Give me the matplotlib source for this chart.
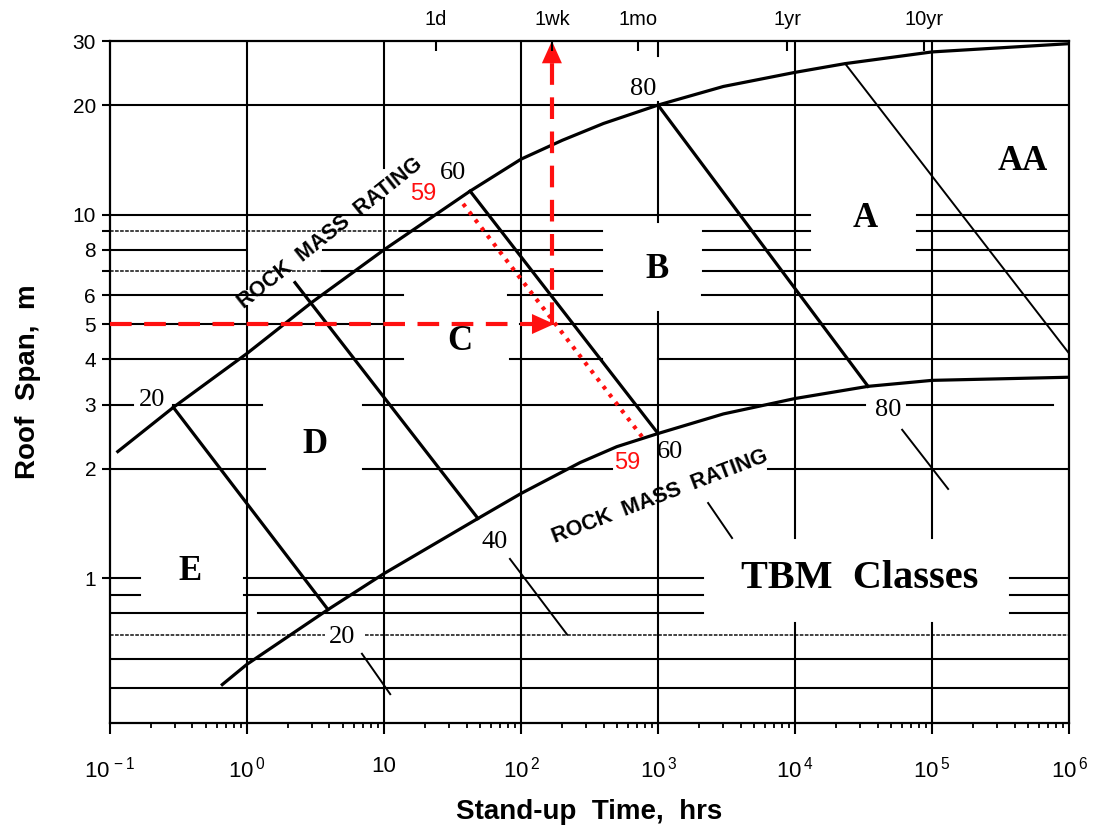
import matplotlib
matplotlib.use("Agg")
import matplotlib.pyplot as plt
from matplotlib.ticker import LogLocator, NullLocator, NullFormatter, FixedLocator, FixedFormatter

plt.rcParams['font.family'] = ['Liberation Sans', 'DejaVu Sans']
plt.rcParams['mathtext.fontset'] = 'custom'
plt.rcParams['mathtext.rm'] = 'Liberation Sans'
plt.rcParams['mathtext.it'] = 'Liberation Sans'
plt.rcParams['mathtext.bf'] = 'Liberation Sans:bold'

# ---------------- data ----------------
# boundary curves (stand-up time in hrs, roof span in m)
upper_x = [0.114, 0.29, 1, 3, 10, 42.5, 100, 200, 400, 1000, 3000, 1e4, 2.32e4, 1e5, 1e6]
upper_y = [2.23, 2.95, 4.15, 5.75, 8.0, 11.6, 14.2, 16.0, 17.8, 20.0, 22.5, 24.6, 26.0, 28.0, 29.5]
lower_x = [0.66, 1, 3.9, 10, 48.5, 100, 270, 500, 1000, 3000, 1e4, 3.41e4, 1e5, 1e6]
lower_y = [0.51, 0.58, 0.82, 1.03, 1.46, 1.71, 2.08, 2.30, 2.5, 2.83, 3.12, 3.37, 3.5, 3.57]

# rock mass rating iso-lines
rmr_values = [20, 40, 60, 80]
rmr_top_x = [0.29, 2.24, 42.5, 1000]
rmr_top_y = [2.95, 6.5, 11.6, 20.0]
rmr_bot_x = [3.9, 48.5, 1000, 3.41e4]
rmr_bot_y = [0.82, 1.46, 2.5, 3.37]

# short leader marks below the lower curve
lead_x0 = [6.9, 83, 2320, 60500]
lead_y0 = [0.62, 1.13, 1.61, 2.56]
lead_x1 = [11.1, 217, 3470, 131000]
lead_y1 = [0.48, 0.70, 1.29, 1.76]

# AA / A boundary
aa_x = [2.32e4, 1e6]
aa_y = [26.0, 4.15]

# RMR = 59 example (red)
rmr59_x = [37.8, 764]
rmr59_y = [10.7, 2.45]
span_example = 5.0
standup_example = 168.0

# interrupted horizontal grid lines: (y, [(x0, x1, style), ...])
hgrid_y = [20, 10, 9, 8, 7, 6, 5, 4, 3, 2, 1, 0.9, 0.8, 0.7, 0.6, 0.5]
hgrid_spans = [
    [(0.1, 1e6, '-')],
    [(0.1, 12850, '-'), (77800, 1e6, '-')],
    [(0.1, 13, ':'), (13, 390, '-'), (2130, 12850, '-'), (77800, 1e6, '-')],
    [(0.1, 0.97, '-'), (3.59, 390, '-'), (2130, 12850, '-'), (77800, 1e6, '-')],
    [(0.1, 3.5, ':'), (3.5, 390, '-'), (2130, 1e6, '-')],
    [(0.1, 13.8, '-'), (80, 390, '-'), (2094, 1e6, '-')],
    [(0.1, 13.8, '-'), (98, 1e6, '-')],
    [(0.1, 13.8, '-'), (83, 390, '-'), (1000, 1e6, '-')],
    [(0.1, 0.147, '-'), (0.288, 1.29, '-'), (7.0, 32400, '-'), (65800, 764000, '-')],
    [(0.1, 1.35, '-'), (7.0, 461, '-'), (6350, 1e6, '-')],
    [(0.1, 0.166, '-'), (0.95, 2130, '-'), (371000, 1e6, '-')],
    [(0.1, 0.166, '-'), (0.95, 2130, '-'), (371000, 1e6, '-')],
    [(0.1, 0.97, '-'), (1.2, 2130, '-'), (371000, 1e6, '-')],
    [(0.1, 3.71, ':'), (7.3, 1e6, ':')],
    [(0.1, 1e6, '-')],
    [(0.1, 1e6, '-')],
]
# interrupted vertical grid lines: (x, [(y0, y1), ...])
vgrid_x = [1, 10, 100, 1000, 1e4, 1e5]
vgrid_spans = [
    [(0.4, 5.59), (6.26, 30)],
    [(0.4, 11.1), (13.4, 30)],
    [(0.4, 30)],
    [(0.4, 5.41), (9.56, 20.4), (27.3, 30)],
    [(0.4, 0.752), (1.29, 30)],
    [(0.4, 0.752), (1.29, 30)],
]

# axis ticks
y_ticks = [1, 2, 3, 4, 5, 6, 7, 8, 9, 10, 20, 30]
y_ticklabels = ['1', '2', '3', '4', '5', '6', '', '8', '', '10', '20', '30']
x_ticks = [0.1, 1, 10, 100, 1000, 1e4, 1e5, 1e6]
x_ticklabels = [r'$\mathregular{10^{\,-1}}$', r'$\mathregular{10^{\,0}}$', '10',
                r'$\mathregular{10^{\,2}}$', r'$\mathregular{10^{\,3}}$',
                r'$\mathregular{10^{\,4}}$', r'$\mathregular{10^{\,5}}$',
                r'$\mathregular{10^{\,6}}$']
top_ticks = [24, 168, 720, 8760, 87600]
top_ticklabels = ['1d', '1wk', '1mo', '1yr', '10yr']

# class labels
class_names = ['AA', 'A', 'B', 'C', 'D', 'E']
class_x = [4.6e5, 3.24e4, 985, 35.9, 3.13, 0.384]
class_y = [14.0, 9.75, 7.06, 4.48, 2.33, 1.045]

# rating number labels
num_text = ['20', '60', '80', '20', '40', '60', '80']
num_x = [0.203, 31.9, 778, 4.93, 64.6, 1225, 47800]
num_y = [3.1, 13.0, 22.2, 0.69, 1.26, 2.23, 2.91]
red_num_x = [19.3, 594]
red_num_y = [11.4, 2.07]

RED = '#FF1010'

# ---------------- figure ----------------
fig = plt.figure(figsize=(11.01, 8.27), dpi=100)
ax = fig.add_axes([0.0999, 0.1258, 0.8711, 0.8246])
ax.set_xscale('log')
ax.set_yscale('log')
ax.set_xlim(0.1, 1e6)
ax.set_ylim(0.4, 30)

GW = 1.5
for y, spans in zip(hgrid_y, hgrid_spans):
    for x0, x1, st in spans:
        if st == ':':
            ax.plot([x0, x1], [y, y], color='#333333', lw=1.3, ls=(0, (2.0, 0.8)), zorder=1)
        else:
            ax.plot([x0, x1], [y, y], color='black', lw=GW, zorder=1)
for x, spans in zip(vgrid_x, vgrid_spans):
    for y0, y1 in spans:
        ax.plot([x, x], [y0, y1], color='black', lw=GW, zorder=1)

# curves
ax.plot(upper_x, upper_y, color='black', lw=2.3, zorder=3, solid_joinstyle='round')
ax.plot(lower_x, lower_y, color='black', lw=2.3, zorder=3, solid_joinstyle='round')
for i in range(len(rmr_values)):
    ax.plot([rmr_top_x[i], rmr_bot_x[i]], [rmr_top_y[i], rmr_bot_y[i]],
            color='black', lw=2.3, zorder=3)
    ax.plot([lead_x0[i], lead_x1[i]], [lead_y0[i], lead_y1[i]],
            color='black', lw=1.4, zorder=3)
ax.plot(aa_x, aa_y, color='black', lw=1.4, zorder=3)

# red example
ax.plot(rmr59_x, rmr59_y, color=RED, lw=3.0, ls=(0, (0.9, 1.5)), zorder=5)
ax.plot([0.1, standup_example * 0.93], [span_example, span_example], color=RED, lw=3.0,
        ls=(0, (5.2, 3.0)), zorder=5)
ax.plot([standup_example, standup_example], [span_example, 27.5], color=RED, lw=3.0,
        ls=(0, (5.2, 3.0)), zorder=5)
ax.annotate('', xy=(standup_example * 1.04, span_example), xytext=(standup_example * 0.8, span_example),
            arrowprops=dict(arrowstyle='-|>,head_length=1.0,head_width=0.45', color=RED, lw=0.01,
                            shrinkA=0, shrinkB=0, mutation_scale=16), zorder=6)
ax.annotate('', xy=(standup_example, 30.0), xytext=(standup_example, 24),
            arrowprops=dict(arrowstyle='-|>,head_length=1.0,head_width=0.45', color=RED, lw=0.01,
                            shrinkA=0, shrinkB=0, mutation_scale=16), zorder=6)

# texts
serif = ['Liberation Serif', 'DejaVu Serif']
for t, x, y in zip(class_names, class_x, class_y):
    ax.text(x, y, t, family=serif, fontweight='bold', fontsize=25,
            ha='center', va='center', zorder=4)
ax.text(2.98e4, 1.0, 'TBM  Classes', family=serif, fontweight='bold', fontsize=29,
        ha='center', va='center', zorder=4)
for t, x, y in zip(num_text, num_x, num_y):
    ax.text(x, y, t, family=serif, fontsize=19, ha='center', va='center', zorder=4)
for x, y in zip(red_num_x, red_num_y):
    ax.text(x, y, '59', fontsize=17, color=RED, ha='center', va='center', zorder=6)

ax.text(4.03, 8.87, 'ROCK  MASS  RATING', fontsize=15.5, fontweight='bold', rotation=38.5,
        rotation_mode='anchor', ha='center', va='center', zorder=4)
ax.text(1035, 1.67, 'ROCK  MASS  RATING', fontsize=15.5, fontweight='bold', rotation=21,
        rotation_mode='anchor', ha='center', va='center', zorder=4)

# axes styling
for s in ax.spines.values():
    s.set_linewidth(1.6)
ax.yaxis.set_major_locator(FixedLocator(y_ticks))
ax.yaxis.set_major_formatter(FixedFormatter(y_ticklabels))
ax.yaxis.set_minor_locator(NullLocator())
ax.xaxis.set_major_locator(FixedLocator(x_ticks))
ax.xaxis.set_major_formatter(FixedFormatter(x_ticklabels))
ax.xaxis.set_minor_locator(LogLocator(base=10, subs=[2, 3, 4, 5, 6, 7, 8, 9], numticks=20))
ax.xaxis.set_minor_formatter(NullFormatter())
ax.tick_params(axis='y', which='major', direction='out', length=6, width=1.5, pad=4,
               labelsize=15)
ax.tick_params(axis='x', which='major', direction='out', length=8, width=1.5, pad=16,
               labelsize=16)
ax.tick_params(axis='x', which='minor', direction='out', length=3.5, width=1.3)
ax.tick_params(right=False, top=False)

tw = ax.twiny()
tw.set_xscale('log')
tw.set_xlim(ax.get_xlim())
tw.xaxis.set_major_locator(FixedLocator(top_ticks))
tw.xaxis.set_major_formatter(FixedFormatter(top_ticklabels))
tw.xaxis.set_minor_locator(NullLocator())
tw.tick_params(axis='x', direction='in', length=7, width=1.5, pad=9, labelsize=14.5)
for s in tw.spines.values():
    s.set_visible(False)

ax.set_xlabel('Stand-up  Time,  hrs', fontsize=20, fontweight='bold', labelpad=12)
ax.set_ylabel('Roof  Span,  m', fontsize=20, fontweight='bold', labelpad=23)

fig.savefig('out.png', dpi=100)
